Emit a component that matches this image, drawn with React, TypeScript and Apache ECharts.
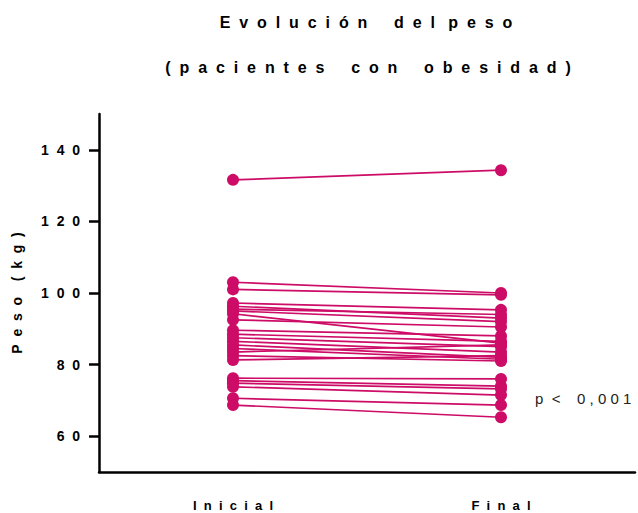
import React, { useEffect, useRef } from "react";
import * as echarts from "echarts";

const categories = ["Inicial", "Final"];
const inicial = [131.6, 103.0, 101.0, 97.2, 96.3, 95.5, 95.0, 94.2, 92.5, 89.6, 88.5, 87.5, 86.5, 85.5, 84.5, 83.5, 82.5, 81.3, 76.2, 75.5, 74.8, 73.8, 70.6, 68.7];
const final = [134.3, 100.0, 99.5, 95.3, 93.0, 94.0, 92.0, 86.0, 90.5, 88.0, 86.5, 85.0, 83.5, 82.0, 81.5, 85.5, 81.0, 82.5, 76.0, 74.0, 73.2, 71.5, 68.7, 65.3];
const yTicks = [60, 80, 100, 120, 140];
const titleLine1 = ["Evolución", "del", "peso"];
const titleLine2 = ["(pacientes", "con", "obesidad)"];
const yName = ["Peso", "(kg)"];
const pText = ["p", "<", "0,001"];

const FONT = 'Arial, "Liberation Sans", sans-serif';
const COLOR = "#cc0c66";
const NB = "\u00A0";
const spaced = (s: string, n = 2) => s.split("").join(NB.repeat(n));

export default function App() {
  const ref = useRef<HTMLDivElement>(null);
  useEffect(() => {
    if (!ref.current) return;
    const chart = echarts.init(ref.current, null, { renderer: "svg" });
    const series = inicial.map((a, i) => ({
      type: "line",
      data: [
        [categories[0], a],
        [categories[1], final[i]],
      ],
      symbol: "circle",
      symbolSize: 12,
      lineStyle: { color: COLOR, width: 1.7 },
      itemStyle: { color: COLOR },
      z: 3,
    }));
    const line1 =
      spaced(titleLine1[0]) + NB.repeat(6) + spaced(titleLine1[1]) + NB.repeat(3) + spaced(titleLine1[2]);
    const line2 =
      spaced(titleLine2[0]) + NB.repeat(6) + spaced(titleLine2[1]) + NB.repeat(6) + spaced(titleLine2[2]);
    chart.setOption({
      animation: false,
      backgroundColor: "#fff",
      grid: { left: 99, right: 3, top: 114, bottom: 41, containLabel: false },
      xAxis: {
        type: "category",
        data: categories,
        boundaryGap: true,
        axisLine: { lineStyle: { color: "#000", width: 2.5 } },
        axisTick: { alignWithLabel: true, length: 8, lineStyle: { color: "#000", width: 2.5 } },
        axisLabel: {
          formatter: (v: string) => spaced(v, 2),
          fontFamily: FONT,
          fontWeight: "bold",
          fontSize: 13,
          color: "#000",
          margin: 27,
        },
        splitLine: { show: false },
      },
      yAxis: {
        type: "value",
        min: 50,
        max: 150,
        interval: 10,
        name: spaced(yName[0]) + NB.repeat(4) + spaced(yName[1]),
        nameLocation: "middle",
        nameRotate: 90,
        nameGap: 75,
        nameTextStyle: { fontFamily: FONT, fontWeight: "bold", fontSize: 14, color: "#000" },
        axisLine: { show: true, lineStyle: { color: "#000", width: 2.5 } },
        axisTick: { show: true, customValues: yTicks, length: 10, lineStyle: { color: "#000", width: 2.5 } },
        axisLabel: {
          customValues: yTicks,
          formatter: (v: number) => spaced(String(v), 2),
          fontFamily: FONT,
          fontWeight: "bold",
          fontSize: 14,
          color: "#000",
          margin: 19,
        },
        splitLine: { show: false },
      },
      graphic: [
        {
          type: "text",
          x: 366,
          y: 22,
          style: {
            text: line1,
            fontFamily: FONT,
            fontWeight: "bold",
            fontSize: 16,
            fill: "#000",
            textAlign: "center",
            textVerticalAlign: "middle",
          },
        },
        {
          type: "text",
          x: 368,
          y: 67,
          style: {
            text: line2,
            fontFamily: FONT,
            fontWeight: "bold",
            fontSize: 16,
            fill: "#000",
            textAlign: "center",
            textVerticalAlign: "middle",
          },
        },
        {
          type: "text",
          x: 535,
          y: 398,
          style: {
            text: pText[0] + NB + NB + pText[1] + NB.repeat(4) + spaced(pText[2], 1),
            fontFamily: FONT,
            fontSize: 15,
            fill: "#222",
            textAlign: "left",
            textVerticalAlign: "middle",
          },
        },
      ],
      series,
    });
    return () => chart.dispose();
  }, []);
  return <div ref={ref} style={{ position: "fixed", left: 0, top: 0, width: 638, height: 513 }} />;
}
